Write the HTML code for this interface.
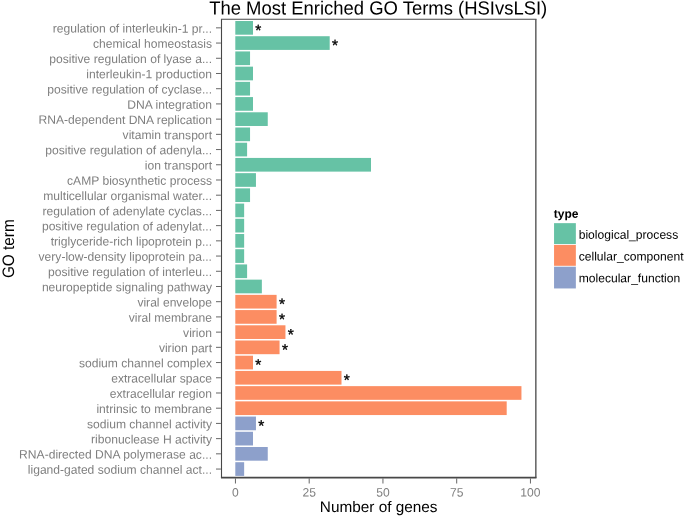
<!DOCTYPE html>
<html lang="en"><head><meta charset="utf-8"><title>The Most Enriched GO Terms (HSIvsLSI)</title>
<style>html,body{margin:0;padding:0;background:#fff;}body{width:685px;height:517px;overflow:hidden;}svg{display:block;will-change:transform;font-family:"Liberation Sans",sans-serif;}.yl{font-size:12.1px;fill:#7f7f7f;text-anchor:end;}.xl{font-size:12.1px;fill:#7f7f7f;text-anchor:middle;}.st{font-size:15.5px;fill:#000;stroke:#000;stroke-width:0.35px;stroke-linejoin:round;text-anchor:middle;}.lg{font-size:12.1px;fill:#000;}</style></head><body>
<svg width="685" height="517" viewBox="0 0 685 517">
<rect x="0" y="0" width="685" height="517" fill="#ffffff"/>
<text transform="translate(378.2,14.5) rotate(0.03) scale(1,1.03)" font-size="18.47" text-anchor="middle" fill="#000">The Most Enriched GO Terms (HSIvsLSI)</text>
<rect x="235.30" y="21.01" width="17.70" height="13.69" fill="#66C2A5"/>
<rect x="235.30" y="36.22" width="94.40" height="13.69" fill="#66C2A5"/>
<rect x="235.30" y="51.43" width="14.75" height="13.69" fill="#66C2A5"/>
<rect x="235.30" y="66.65" width="17.70" height="13.69" fill="#66C2A5"/>
<rect x="235.30" y="81.86" width="14.75" height="13.69" fill="#66C2A5"/>
<rect x="235.30" y="97.08" width="17.70" height="13.69" fill="#66C2A5"/>
<rect x="235.30" y="112.29" width="32.45" height="13.69" fill="#66C2A5"/>
<rect x="235.30" y="127.50" width="14.75" height="13.69" fill="#66C2A5"/>
<rect x="235.30" y="142.72" width="11.80" height="13.69" fill="#66C2A5"/>
<rect x="235.30" y="157.93" width="135.70" height="13.69" fill="#66C2A5"/>
<rect x="235.30" y="173.15" width="20.65" height="13.69" fill="#66C2A5"/>
<rect x="235.30" y="188.36" width="14.75" height="13.69" fill="#66C2A5"/>
<rect x="235.30" y="203.57" width="8.85" height="13.69" fill="#66C2A5"/>
<rect x="235.30" y="218.79" width="8.85" height="13.69" fill="#66C2A5"/>
<rect x="235.30" y="234.00" width="8.85" height="13.69" fill="#66C2A5"/>
<rect x="235.30" y="249.22" width="8.85" height="13.69" fill="#66C2A5"/>
<rect x="235.30" y="264.43" width="11.80" height="13.69" fill="#66C2A5"/>
<rect x="235.30" y="279.64" width="26.55" height="13.69" fill="#66C2A5"/>
<rect x="235.30" y="294.86" width="41.30" height="13.69" fill="#FC8D62"/>
<rect x="235.30" y="310.07" width="41.30" height="13.69" fill="#FC8D62"/>
<rect x="235.30" y="325.29" width="50.15" height="13.69" fill="#FC8D62"/>
<rect x="235.30" y="340.50" width="44.25" height="13.69" fill="#FC8D62"/>
<rect x="235.30" y="355.71" width="17.70" height="13.69" fill="#FC8D62"/>
<rect x="235.30" y="370.93" width="106.20" height="13.69" fill="#FC8D62"/>
<rect x="235.30" y="386.14" width="286.15" height="13.69" fill="#FC8D62"/>
<rect x="235.30" y="401.36" width="271.40" height="13.69" fill="#FC8D62"/>
<rect x="235.30" y="416.57" width="20.65" height="13.69" fill="#8DA0CB"/>
<rect x="235.30" y="431.78" width="17.70" height="13.69" fill="#8DA0CB"/>
<rect x="235.30" y="447.00" width="32.45" height="13.69" fill="#8DA0CB"/>
<rect x="235.30" y="462.21" width="8.85" height="13.69" fill="#8DA0CB"/>
<text class="st" transform="translate(258.35,35.40) rotate(0.03)">*</text>
<text class="st" transform="translate(335.05,50.61) rotate(0.03)">*</text>
<text class="st" transform="translate(281.95,309.25) rotate(0.03)">*</text>
<text class="st" transform="translate(281.95,324.47) rotate(0.03)">*</text>
<text class="st" transform="translate(290.80,339.68) rotate(0.03)">*</text>
<text class="st" transform="translate(284.90,354.89) rotate(0.03)">*</text>
<text class="st" transform="translate(258.35,370.11) rotate(0.03)">*</text>
<text class="st" transform="translate(346.85,385.32) rotate(0.03)">*</text>
<text class="st" transform="translate(261.30,430.96) rotate(0.03)">*</text>
<line x1="220.95" x2="536.50" y1="19.25" y2="19.25" stroke="#484848" stroke-width="1.05"/>
<line x1="220.95" x2="536.50" y1="477.70" y2="477.70" stroke="#484848" stroke-width="1.7"/>
<line x1="221.50" x2="221.50" y1="19.25" y2="477.70" stroke="#484848" stroke-width="1.1"/>
<line x1="535.85" x2="535.85" y1="19.25" y2="477.70" stroke="#484848" stroke-width="1.3"/>
<line x1="216" x2="220.90" y1="27.85" y2="27.85" stroke="#666666" stroke-width="1"/>
<text class="yl" transform="translate(212,32.65) rotate(0.03)">regulation of interleukin-1 pr...</text>
<line x1="216" x2="220.90" y1="43.06" y2="43.06" stroke="#666666" stroke-width="1"/>
<text class="yl" transform="translate(212,47.86) rotate(0.03)">chemical homeostasis</text>
<line x1="216" x2="220.90" y1="58.28" y2="58.28" stroke="#666666" stroke-width="1"/>
<text class="yl" transform="translate(212,63.08) rotate(0.03)">positive regulation of lyase a...</text>
<line x1="216" x2="220.90" y1="73.49" y2="73.49" stroke="#666666" stroke-width="1"/>
<text class="yl" transform="translate(212,78.29) rotate(0.03)">interleukin-1 production</text>
<line x1="216" x2="220.90" y1="88.71" y2="88.71" stroke="#666666" stroke-width="1"/>
<text class="yl" transform="translate(212,93.51) rotate(0.03)">positive regulation of cyclase...</text>
<line x1="216" x2="220.90" y1="103.92" y2="103.92" stroke="#666666" stroke-width="1"/>
<text class="yl" transform="translate(212,108.72) rotate(0.03)">DNA integration</text>
<line x1="216" x2="220.90" y1="119.13" y2="119.13" stroke="#666666" stroke-width="1"/>
<text class="yl" transform="translate(212,123.93) rotate(0.03)">RNA-dependent DNA replication</text>
<line x1="216" x2="220.90" y1="134.35" y2="134.35" stroke="#666666" stroke-width="1"/>
<text class="yl" transform="translate(212,139.15) rotate(0.03)">vitamin transport</text>
<line x1="216" x2="220.90" y1="149.56" y2="149.56" stroke="#666666" stroke-width="1"/>
<text class="yl" transform="translate(212,154.36) rotate(0.03)">positive regulation of adenyla...</text>
<line x1="216" x2="220.90" y1="164.78" y2="164.78" stroke="#666666" stroke-width="1"/>
<text class="yl" transform="translate(212,169.58) rotate(0.03)">ion transport</text>
<line x1="216" x2="220.90" y1="179.99" y2="179.99" stroke="#666666" stroke-width="1"/>
<text class="yl" transform="translate(212,184.79) rotate(0.03)">cAMP biosynthetic process</text>
<line x1="216" x2="220.90" y1="195.20" y2="195.20" stroke="#666666" stroke-width="1"/>
<text class="yl" transform="translate(212,200.00) rotate(0.03)">multicellular organismal water...</text>
<line x1="216" x2="220.90" y1="210.42" y2="210.42" stroke="#666666" stroke-width="1"/>
<text class="yl" transform="translate(212,215.22) rotate(0.03)">regulation of adenylate cyclas...</text>
<line x1="216" x2="220.90" y1="225.63" y2="225.63" stroke="#666666" stroke-width="1"/>
<text class="yl" transform="translate(212,230.43) rotate(0.03)">positive regulation of adenylat...</text>
<line x1="216" x2="220.90" y1="240.85" y2="240.85" stroke="#666666" stroke-width="1"/>
<text class="yl" transform="translate(212,245.65) rotate(0.03)">triglyceride-rich lipoprotein p...</text>
<line x1="216" x2="220.90" y1="256.06" y2="256.06" stroke="#666666" stroke-width="1"/>
<text class="yl" transform="translate(212,260.86) rotate(0.03)">very-low-density lipoprotein pa...</text>
<line x1="216" x2="220.90" y1="271.27" y2="271.27" stroke="#666666" stroke-width="1"/>
<text class="yl" transform="translate(212,276.07) rotate(0.03)">positive regulation of interleu...</text>
<line x1="216" x2="220.90" y1="286.49" y2="286.49" stroke="#666666" stroke-width="1"/>
<text class="yl" transform="translate(212,291.29) rotate(0.03)">neuropeptide signaling pathway</text>
<line x1="216" x2="220.90" y1="301.70" y2="301.70" stroke="#666666" stroke-width="1"/>
<text class="yl" transform="translate(212,306.50) rotate(0.03)">viral envelope</text>
<line x1="216" x2="220.90" y1="316.92" y2="316.92" stroke="#666666" stroke-width="1"/>
<text class="yl" transform="translate(212,321.72) rotate(0.03)">viral membrane</text>
<line x1="216" x2="220.90" y1="332.13" y2="332.13" stroke="#666666" stroke-width="1"/>
<text class="yl" transform="translate(212,336.93) rotate(0.03)">virion</text>
<line x1="216" x2="220.90" y1="347.34" y2="347.34" stroke="#666666" stroke-width="1"/>
<text class="yl" transform="translate(212,352.14) rotate(0.03)">virion part</text>
<line x1="216" x2="220.90" y1="362.56" y2="362.56" stroke="#666666" stroke-width="1"/>
<text class="yl" transform="translate(212,367.36) rotate(0.03)">sodium channel complex</text>
<line x1="216" x2="220.90" y1="377.77" y2="377.77" stroke="#666666" stroke-width="1"/>
<text class="yl" transform="translate(212,382.57) rotate(0.03)">extracellular space</text>
<line x1="216" x2="220.90" y1="392.99" y2="392.99" stroke="#666666" stroke-width="1"/>
<text class="yl" transform="translate(212,397.79) rotate(0.03)">extracellular region</text>
<line x1="216" x2="220.90" y1="408.20" y2="408.20" stroke="#666666" stroke-width="1"/>
<text class="yl" transform="translate(212,413.00) rotate(0.03)">intrinsic to membrane</text>
<line x1="216" x2="220.90" y1="423.41" y2="423.41" stroke="#666666" stroke-width="1"/>
<text class="yl" transform="translate(212,428.21) rotate(0.03)">sodium channel activity</text>
<line x1="216" x2="220.90" y1="438.63" y2="438.63" stroke="#666666" stroke-width="1"/>
<text class="yl" transform="translate(212,443.43) rotate(0.03)">ribonuclease H activity</text>
<line x1="216" x2="220.90" y1="453.84" y2="453.84" stroke="#666666" stroke-width="1"/>
<text class="yl" transform="translate(212,458.64) rotate(0.03)">RNA-directed DNA polymerase ac...</text>
<line x1="216" x2="220.90" y1="469.06" y2="469.06" stroke="#666666" stroke-width="1"/>
<text class="yl" transform="translate(212,473.86) rotate(0.03)">ligand-gated sodium channel act...</text>
<line x1="235.45" x2="235.45" y1="478.30" y2="483.5" stroke="#666666" stroke-width="1"/>
<text class="xl" transform="translate(235.45,496.4) rotate(0.03)">0</text>
<line x1="309.20" x2="309.20" y1="478.30" y2="483.5" stroke="#666666" stroke-width="1"/>
<text class="xl" transform="translate(309.20,496.4) rotate(0.03)">25</text>
<line x1="382.95" x2="382.95" y1="478.30" y2="483.5" stroke="#666666" stroke-width="1"/>
<text class="xl" transform="translate(382.95,496.4) rotate(0.03)">50</text>
<line x1="456.70" x2="456.70" y1="478.30" y2="483.5" stroke="#666666" stroke-width="1"/>
<text class="xl" transform="translate(456.70,496.4) rotate(0.03)">75</text>
<line x1="530.45" x2="530.45" y1="478.30" y2="483.5" stroke="#666666" stroke-width="1"/>
<text class="xl" transform="translate(530.45,496.4) rotate(0.03)">100</text>
<text transform="translate(378.65,512.0) rotate(0.03)" font-size="15.35" text-anchor="middle" fill="#000">Number of genes</text>
<text transform="translate(14,248.7) rotate(-90.03) scale(1,1.08)" font-size="15.35" text-anchor="middle" fill="#000">GO term</text>
<text transform="translate(553.8,217.8) rotate(0.03)" font-size="12" font-weight="bold" fill="#000">type</text>
<rect x="554.05" y="223.15" width="21.8" height="20.90" fill="#66C2A5"/>
<text class="lg" transform="translate(578.7,238.70) rotate(0.03)">biological_process</text>
<rect x="554.05" y="244.90" width="21.8" height="20.90" fill="#FC8D62"/>
<text class="lg" transform="translate(578.7,260.47) rotate(0.03)">cellular_component</text>
<rect x="554.05" y="266.70" width="21.8" height="21.75" fill="#8DA0CB"/>
<text class="lg" transform="translate(578.7,282.24) rotate(0.03)">molecular_function</text>
</svg></body></html>
